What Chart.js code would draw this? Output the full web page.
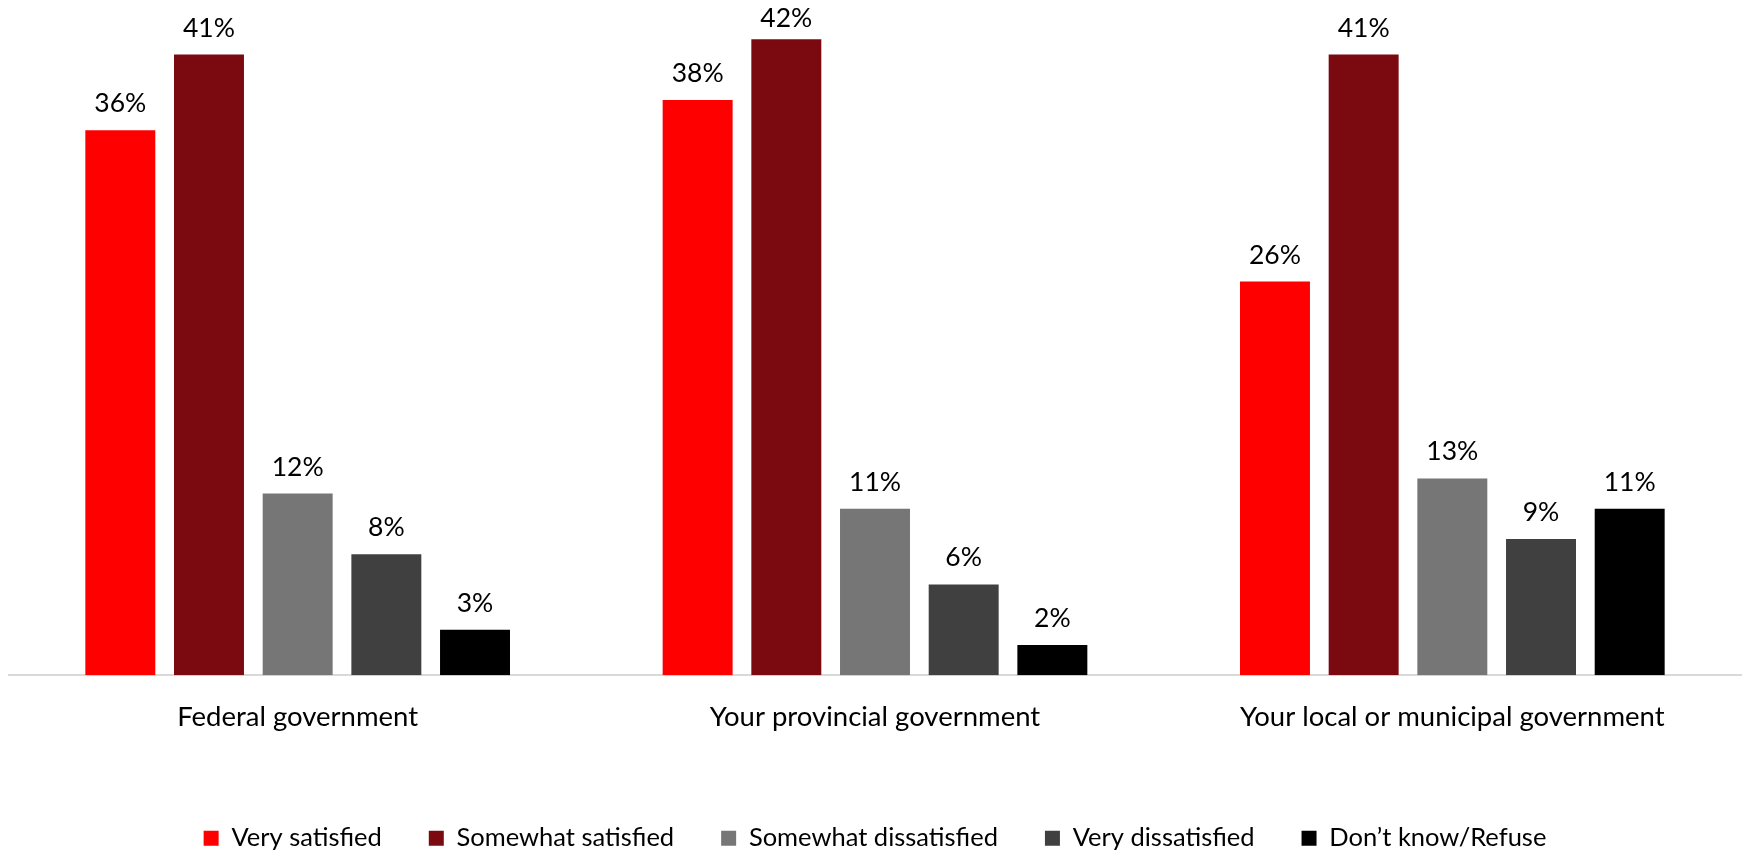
<!DOCTYPE html>
<html lang="en">
  <head>
    <meta charset="UTF-8" />
    <title>Satisfaction with government</title>
    <style>
      html, body { margin: 0; padding: 0; background: #fff; overflow: hidden; }
      #wrap { width: 1744px; height: 864px; position: relative; }
    </style>
    <script src="https://cdn.jsdelivr.net/npm/chart.js"></script>
  </head>
  <body>
    <div id="wrap">
      <canvas id="myChart"></canvas>
    </div>
    <script>
      // categories and series
      const categories = ["Federal government", "Your provincial government", "Your local or municipal government"];
      const seriesNames = ["Very satisfied", "Somewhat satisfied", "Somewhat dissatisfied", "Very dissatisfied", "Don\u2019t know/Refuse"];
      const verySatisfied = [36, 38, 26];
      const somewhatSatisfied = [41, 42, 41];
      const somewhatDissatisfied = [12, 11, 13];
      const veryDissatisfied = [8, 6, 9];
      const dontKnow = [3, 2, 11];
      const colors = ["#ff0000", "#7b0a10", "#767676", "#404040", "#000000"];

      const FONT = "Lato, 'Open Sans', sans-serif";

      // labels over each bar, kept inside the plot area
      const barLabels = {
        id: "barLabels",
        afterDatasetsDraw(chart) {
          const ctx = chart.ctx;
          ctx.save();
          ctx.font = "26.5px " + FONT;
          ctx.fillStyle = "#000";
          ctx.textAlign = "center";
          ctx.textBaseline = "alphabetic";
          chart.data.datasets.forEach((ds, i) => {
            chart.getDatasetMeta(i).data.forEach((bar, j) => {
              const y = Math.max(bar.y - 18, chart.chartArea.top + 27);
              ctx.fillText(ds.data[j] + "%", bar.x, y);
            });
          });
          ctx.restore();
        }
      };

      const allSeries = [verySatisfied, somewhatSatisfied, somewhatDissatisfied, veryDissatisfied, dontKnow];

      new Chart(document.getElementById("myChart"), {
        type: "bar",
        data: {
          labels: categories,
          datasets: allSeries.map((vals, i) => ({
            label: seriesNames[i],
            data: vals,
            backgroundColor: colors[i],
            borderWidth: 0,
            categoryPercentage: 0.768,
            barPercentage: 0.789
          }))
        },
        options: {
          responsive: true,
          maintainAspectRatio: false,
          animation: false,
          layout: { padding: { left: 9, right: 3, top: 0, bottom: 3 } },
          scales: {
            x: {
              grid: { display: false, drawTicks: false },
              border: { display: true, color: "#d9d9d9", width: 2 },
              ticks: { color: "#000", font: { family: FONT, size: 27.5 }, padding: 25 },
              afterFit(scale) { scale.height = 103.25; }
            },
            y: {
              display: false,
              min: 0,
              max: 44.6
            }
          },
          plugins: {
            legend: {
              position: "bottom",
              labels: {
                color: "#000",
                font: { family: FONT, size: 25.5 },
                boxWidth: 15,
                boxHeight: 15,
                padding: 47
              }
            },
            tooltip: { enabled: false }
          }
        },
        plugins: [barLabels]
      });
    </script>
  </body>
</html>
